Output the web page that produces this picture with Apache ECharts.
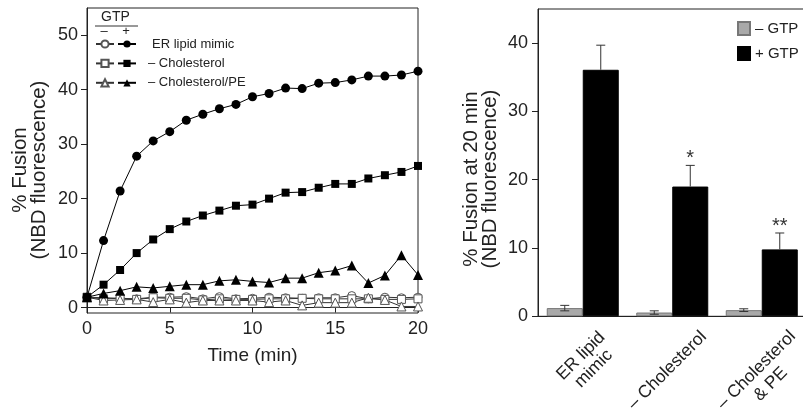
<!DOCTYPE html>
<html><head><meta charset="utf-8">
<script src="https://cdn.jsdelivr.net/npm/echarts@6/dist/echarts.min.js"></script>
<style>html,body{margin:0;padding:0;background:#fff}#c{width:803px;height:408px}</style>
</head><body><div id="c"></div>
<script>
// ---- Left panel: time course ----
const timeMin = [0,1,2,3,4,5,6,7,8,9,10,11,12,13,14,15,16,17,18,19,20];
const erPlus = [1.9,12.3,21.4,27.8,30.6,32.3,34.4,35.5,36.5,37.3,38.7,39.3,40.3,40.2,41.2,41.3,41.8,42.5,42.5,42.7,43.4];
const cholPlus = [1.9,4.2,6.9,10.0,12.5,14.4,15.8,16.9,17.8,18.7,18.9,20.0,21.1,21.2,22.0,22.7,22.7,23.7,24.3,24.9,26.0];
const cholPePlus = [1.9,2.6,3.1,3.8,3.6,3.9,4.2,4.2,4.9,5.1,4.8,4.6,5.4,5.4,6.4,6.8,7.7,4.5,5.9,9.6,6.0];
const erMinus = [1.9,1.8,1.7,1.6,1.9,1.9,2.0,1.6,2.0,1.6,1.7,1.9,1.8,1.7,1.8,1.8,2.2,1.6,1.9,1.8,1.9];
const cholMinus = [1.9,1.6,1.7,1.5,1.8,1.7,1.7,1.4,1.6,1.5,1.5,1.6,1.6,1.7,1.6,1.6,1.6,1.6,1.5,1.5,1.6];
const cholPeMinus = [1.9,1.3,1.4,1.5,1.0,1.5,0.9,1.3,1.3,1.3,1.3,1.0,1.3,0.4,0.9,0.9,0.9,1.8,1.4,0.2,0.2];
const lineNames = ['ER lipid mimic', '– Cholesterol', '– Cholesterol/PE'];
const leftYTicks = [0,10,20,30,40,50];

// ---- Right panel: fusion at 20 min ----
const barCategories = ['ER lipid\nmimic', '– Cholesterol', '– Cholesterol\n& PE'];
const minusGtp = [1.2, 0.55, 0.9];
const minusGtpErr = [0.4, 0.25, 0.2];
const plusGtp = [36.1, 19.0, 9.8];
const plusGtpErr = [3.6, 3.1, 2.4];
const significance = ['', '*', '**'];
const rightYTicks = [0,10,20,30,40];

const FONT = 'Liberation Sans, Arial, Helvetica, sans-serif';
const TXT = '#222';
const BAR_W = 36;

function pairs(ys){ return timeMin.map((t,i)=>[t, ys[i]]); }

function lineSeries(name, ys, symbol, size, filled){
  return {
    type:'line', name:name, xAxisIndex:0, yAxisIndex:0,
    data: pairs(ys), symbol: symbol, symbolSize: size, showSymbol:true,
    lineStyle:{color: filled ? '#000' : '#333', width:1},
    itemStyle: filled ? {color:'#000', borderColor:'#000', borderWidth:0}
                      : {color:'#fff', borderColor:'#555', borderWidth:1},
    emphasis:{disabled:true}, animation:false, z: filled ? 3 : 2
  };
}

function errSeries(name, vals, errs, side, both){
  return {
    type:'custom', name: name+' err', xAxisIndex:1, yAxisIndex:1, z:5,
    data: vals.map((v,i)=>[i, v, errs[i]]),
    renderItem: function(params, api){
      const ci = api.value(0), v = api.value(1), e = api.value(2);
      const base = api.coord([ci, v]);
      const x = base[0] + side*BAR_W/2;
      const top = api.coord([ci, v+e])[1];
      const bot = both ? api.coord([ci, v-e])[1] : base[1];
      const cap = 4.5;
      const st = {stroke:'#333', lineWidth:1};
      const children = [
        {type:'line', shape:{x1:x, y1:top, x2:x, y2:bot}, style:st},
        {type:'line', shape:{x1:x-cap, y1:top, x2:x+cap, y2:top}, style:st}
      ];
      if (both) children.push({type:'line', shape:{x1:x-cap, y1:bot, x2:x+cap, y2:bot}, style:st});
      if (side > 0 && significance[params.dataIndex]) {
        children.push({type:'text', style:{text: significance[params.dataIndex], x:x, y:top+3,
          align:'center', verticalAlign:'bottom', fontSize:20, fontFamily:FONT, fill:'#333'}});
      }
      return {type:'group', children: children};
    },
    animation:false, silent:true
  };
}

// rich styles that nudge each rotated category label (padding in the label's own frame)
const LBL = {fontSize:17.5, lineHeight:20, color:TXT, fontFamily:FONT};
const catRich = {
  c0: Object.assign({padding:[0,0,0,15]}, LBL),
  c0e: Object.assign({padding:[0,0,4,15]}, LBL),
  c1e: Object.assign({padding:[0,10,4,0]}, LBL),
  c2e: Object.assign({padding:[0,10,0,0]}, LBL),
  sp: {fontSize:8, lineHeight:15, color:'transparent', fontFamily:FONT}
};
function catFormatter(value, index){
  const lines = String(value).split('\n');
  const out = lines.map(function(l, k){
    let key;
    if (index === 0) key = (k === lines.length-1) ? 'c0e' : 'c0';
    else if (index === 1) key = 'c1e';
    else key = 'c2e';
    return '{' + key + '|' + l + '}';
  });
  if (index === 2) out.unshift('{sp| }');
  return out.join('\n');
}

const chart = echarts.init(document.getElementById('c'), null, {renderer:'canvas'});
chart.setOption({
  backgroundColor:'#fff',
  animation:false,
  textStyle:{fontFamily:FONT, color:TXT},
  grid:[
    {left:87, top:8, right:385, bottom:95, show:true, borderColor:'#222', borderWidth:1,
     backgroundColor:'transparent', outerBoundsMode:'none', containLabel:false},
    {left:538, top:9, width:268.5, bottom:91.7, show:true, borderColor:'#222', borderWidth:1,
     backgroundColor:'transparent', outerBoundsMode:'none', containLabel:false}
  ],
  xAxis:[
    {type:'value', gridIndex:0, min:0, max:20, interval:5,
     name:'Time (min)', nameLocation:'middle', nameGap:33,
     nameTextStyle:{fontSize:19, color:TXT, fontFamily:FONT},
     axisLine:{show:true, lineStyle:{color:'#222'}},
     axisTick:{show:true, inside:false, length:5, lineStyle:{color:'#222'}},
     axisLabel:{fontSize:18, color:TXT, margin:7, fontFamily:FONT},
     splitLine:{show:false}},
    {type:'category', gridIndex:1, data: barCategories,
     axisLine:{show:true, lineStyle:{color:'#222'}},
     axisTick:{show:false},
     axisLabel:{rotate:45, align:'center', verticalAlign:'middle', margin:52, fontSize:17.5,
       lineHeight:20, color:TXT, fontFamily:FONT, interval:0, hideOverlap:false,
       formatter: catFormatter, rich: catRich},
     splitLine:{show:false}}
  ],
  yAxis:[
    {type:'value', gridIndex:0, min:-1, max:55,
     axisLine:{show:true, lineStyle:{color:'#222'}},
     axisTick:{show:true, length:6, customValues:leftYTicks, lineStyle:{color:'#222'}},
     axisLabel:{fontSize:18, color:TXT, margin:9, customValues:leftYTicks, fontFamily:FONT},
     splitLine:{show:false}},
    {type:'value', gridIndex:1, min:0, max:45,
     axisLine:{show:true, lineStyle:{color:'#222'}},
     axisTick:{show:true, length:6, customValues:rightYTicks, lineStyle:{color:'#222'}},
     axisLabel:{fontSize:18, color:TXT, margin:10, customValues:rightYTicks, fontFamily:FONT},
     splitLine:{show:false}}
  ],
  legend:[
    {data:[lineNames[0]+' (–GTP)', lineNames[1]+' (–GTP)', lineNames[2]+' (–GTP)'],
     orient:'vertical', left:95, top:37, padding:0, itemWidth:18, itemHeight:9, itemGap:5.4,
     formatter:function(){ return ' '; }, selectedMode:false,
     textStyle:{fontSize:13, lineHeight:14, fontFamily:FONT}},
    {data:lineNames, orient:'vertical', left:117, top:37, padding:0, itemWidth:18, itemHeight:9, itemGap:5.4,
     selectedMode:false,
     formatter:function(n){ return n === lineNames[0] ? '{a|' + n + '}' : '{b|' + n + '}'; },
     textStyle:{fontSize:13, lineHeight:14, color:TXT, fontFamily:FONT,
       rich:{a:{fontSize:13, color:TXT, padding:[0,0,0,11]}, b:{fontSize:13, color:TXT, padding:[0,0,0,7]}}}},
    {data:['– GTP', '+ GTP'], orient:'vertical', left:737, top:21, padding:0, itemWidth:12, itemHeight:13,
     itemGap:10, selectedMode:false, icon:'rect',
     textStyle:{fontSize:15, color:TXT, fontFamily:FONT}}
  ],
  graphic:[
    {type:'text', left:101, top:10, style:{text:'GTP', fontSize:14, fill:TXT, fontFamily:FONT}},
    {type:'line', shape:{x1:95, y1:26, x2:138, y2:26}, style:{stroke:'#333', lineWidth:1}},
    {type:'text', x:104, y:31, style:{text:'–', fontSize:13, fill:TXT, align:'center', verticalAlign:'middle', fontFamily:FONT}},
    {type:'text', x:126, y:31, style:{text:'+', fontSize:13, fill:TXT, align:'center', verticalAlign:'middle', fontFamily:FONT}},
    {type:'text', x:30, y:170, rotation:Math.PI/2,
     style:{text:'% Fusion\n(NBD fluorescence)', fontSize:20.5, lineHeight:19, fill:TXT, align:'center', verticalAlign:'middle', fontFamily:FONT}},
    {type:'text', x:481, y:179, rotation:Math.PI/2,
     style:{text:'% Fusion at 20 min\n(NBD fluorescence)', fontSize:20.5, lineHeight:19, fill:TXT, align:'center', verticalAlign:'middle', fontFamily:FONT}}
  ],
  series:[
    lineSeries(lineNames[0]+' (–GTP)', erMinus, 'circle', 8, false),
    lineSeries(lineNames[1]+' (–GTP)', cholMinus, 'rect', 8, false),
    lineSeries(lineNames[2]+' (–GTP)', cholPeMinus, 'triangle', 9, false),
    lineSeries(lineNames[0], erPlus, 'circle', 9, true),
    lineSeries(lineNames[1], cholPlus, 'rect', 8, true),
    lineSeries(lineNames[2], cholPePlus, 'triangle', 10, true),
    {type:'bar', name:'– GTP', xAxisIndex:1, yAxisIndex:1, data:minusGtp, barWidth:BAR_W, barGap:'0%',
     itemStyle:{color:'#a9a9a9', borderColor:'#777', borderWidth:1}, emphasis:{disabled:true}},
    {type:'bar', name:'+ GTP', xAxisIndex:1, yAxisIndex:1, data:plusGtp, barWidth:BAR_W, barGap:'0%',
     itemStyle:{color:'#000', borderColor:'#000', borderWidth:1}, emphasis:{disabled:true}},
    errSeries('– GTP', minusGtp, minusGtpErr, -1, true),
    errSeries('+ GTP', plusGtp, plusGtpErr, 1, false)
  ]
});
</script>
</body></html>
